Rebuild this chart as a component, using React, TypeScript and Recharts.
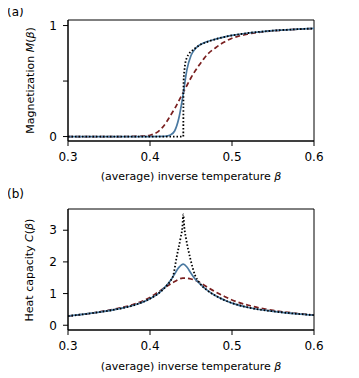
import { LineChart, Line, XAxis, YAxis, ReferenceArea } from "recharts"

// magnetization
const betaMExact = [0.3, 0.35, 0.4, 0.43, 0.4406, 0.4408, 0.441, 0.442, 0.443, 0.445, 0.4475, 0.45, 0.455, 0.46, 0.47, 0.48, 0.49, 0.5, 0.52, 0.54, 0.56, 0.58, 0.6]
const mExact = [0, 0, 0, 0, 0, 0.4, 0.5, 0.6, 0.66, 0.71, 0.745, 0.765, 0.795, 0.822, 0.853, 0.877, 0.896, 0.911, 0.933, 0.948, 0.959, 0.967, 0.974]

const betaMBlue = [0.3, 0.35, 0.4, 0.415, 0.42, 0.425, 0.43, 0.435, 0.44, 0.445, 0.45, 0.455, 0.46, 0.47, 0.48, 0.49, 0.5, 0.52, 0.54, 0.56, 0.58, 0.6]
const mBlue = [0, 0, 0, 0.001, 0.004, 0.015, 0.05, 0.16, 0.36, 0.6, 0.73, 0.79, 0.822, 0.856, 0.878, 0.896, 0.911, 0.933, 0.948, 0.959, 0.967, 0.974]

const betaMRed = [0.3, 0.35, 0.38, 0.39, 0.4, 0.405, 0.41, 0.415, 0.42, 0.425, 0.43, 0.435, 0.44, 0.445, 0.45, 0.455, 0.46, 0.465, 0.47, 0.48, 0.49, 0.5, 0.52, 0.54, 0.56, 0.58, 0.6]
const mRed = [0, 0, 0.001, 0.004, 0.012, 0.025, 0.045, 0.08, 0.13, 0.19, 0.25, 0.32, 0.39, 0.46, 0.53, 0.59, 0.645, 0.695, 0.74, 0.8, 0.85, 0.885, 0.924, 0.945, 0.958, 0.967, 0.974]

// heat capacity
const betaCExact = [0.3, 0.32, 0.34, 0.36, 0.38, 0.4, 0.41, 0.42, 0.425, 0.4284, 0.4324, 0.4374, 0.4395, 0.4406, 0.4418, 0.4439, 0.449, 0.4549, 0.46, 0.47, 0.48, 0.5, 0.52, 0.55, 0.58, 0.6]
const cExact = [0.29, 0.35, 0.42, 0.51, 0.63, 0.84, 1.0, 1.24, 1.4, 1.58, 2.14, 2.77, 3.1, 3.5, 3.1, 2.75, 2.12, 1.58, 1.35, 1.1, 0.93, 0.7, 0.56, 0.44, 0.36, 0.32]

const betaCBlue = [0.3, 0.32, 0.34, 0.36, 0.38, 0.4, 0.41, 0.42, 0.425, 0.43, 0.435, 0.4406, 0.445, 0.45, 0.455, 0.46, 0.47, 0.48, 0.5, 0.52, 0.55, 0.58, 0.6]
const cBlue = [0.29, 0.35, 0.42, 0.51, 0.63, 0.84, 1.0, 1.25, 1.41, 1.62, 1.82, 1.93, 1.84, 1.64, 1.46, 1.33, 1.1, 0.93, 0.7, 0.56, 0.44, 0.36, 0.32]

const betaCRed = [0.3, 0.32, 0.34, 0.36, 0.38, 0.4, 0.41, 0.42, 0.43, 0.44, 0.45, 0.46, 0.47, 0.48, 0.49, 0.5, 0.52, 0.55, 0.58, 0.6]
const cRed = [0.29, 0.35, 0.43, 0.53, 0.66, 0.88, 1.05, 1.22, 1.38, 1.49, 1.46, 1.36, 1.2, 1.05, 0.92, 0.8, 0.63, 0.47, 0.37, 0.32]

const xTicks = [0.3, 0.4, 0.5, 0.6]
const mTicks = [0, 0.5, 1]
const cTicks = [0, 1, 2, 3]

const BLUE = "#4a79a1"
const RED = "#7a1f1f"
const FONT = "DejaVu Sans"

const zip = (xs: number[], ys: number[]) => xs.map((beta, i) => ({ beta, v: ys[i] }))

interface PanelProps {
  top: number
  exact: { beta: number; v: number }[]
  blue: { beta: number; v: number }[]
  red: { beta: number; v: number }[]
  yDomain: [number, number]
  yTicks: number[]
  yFmt: (v: number) => string
}

function Panel({ top, exact, blue, red, yDomain, yTicks, yFmt }: PanelProps) {
  const tick = { fontSize: 12, fontFamily: FONT, fill: "#000" }
  return (
    <div style={{ position: "absolute", left: 0, top }}>
      <LineChart width={359} height={189} margin={{ top: 20, right: 45, left: 0, bottom: 18 }}>
        <XAxis
          type="number"
          dataKey="beta"
          domain={[0.3, 0.6]}
          ticks={xTicks}
          allowDataOverflow
          tickFormatter={(v: number) => v.toFixed(1)}
          tick={tick}
          tickSize={5}
          tickMargin={6}
          height={30}
          stroke="#000"
        />
        <YAxis
          type="number"
          domain={yDomain}
          ticks={yTicks}
          allowDataOverflow
          tickFormatter={yFmt}
          tick={tick}
          tickSize={5}
          tickMargin={6}
          width={68}
          stroke="#000"
        />
        <ReferenceArea x1={0.3} x2={0.6} y1={yDomain[0]} y2={yDomain[1]} fill="none" fillOpacity={0} stroke="#000" strokeWidth={1} />
        <Line data={red} dataKey="v" type="monotone" stroke={RED} strokeWidth={1.7} strokeDasharray="5 3" dot={false} isAnimationActive={false} />
        <Line data={blue} dataKey="v" type="monotone" stroke={BLUE} strokeWidth={1.7} dot={false} isAnimationActive={false} />
        <Line data={exact} dataKey="v" type="monotone" stroke="#000" strokeWidth={1.8} strokeDasharray="1.5 2" dot={false} isAnimationActive={false} />
      </LineChart>
    </div>
  )
}

export default function App() {
  const label = { fontFamily: FONT, fontSize: 11, fill: "#000" }
  return (
    <div style={{ position: "relative", width: 359, height: 378, margin: "-8px 0 0 -8px", background: "#fff" }}>
      <Panel
        top={0}
        exact={zip(betaMExact, mExact)}
        blue={zip(betaMBlue, mBlue)}
        red={zip(betaMRed, mRed)}
        yDomain={[-0.04, 1.05]}
        yTicks={mTicks}
        yFmt={(v) => (v === 0.5 ? "" : String(v))}
      />
      <Panel
        top={189}
        exact={zip(betaCExact, cExact)}
        blue={zip(betaCBlue, cBlue)}
        red={zip(betaCRed, cRed)}
        yDomain={[-0.15, 3.67]}
        yTicks={cTicks}
        yFmt={(v) => String(v)}
      />
      <svg width={359} height={378} style={{ position: "absolute", left: 0, top: 0, pointerEvents: "none" }}>
        <text x={7} y={16} style={{ ...label, fontSize: 12 }} fill="#000">(a)</text>
        <text x={7} y={198} style={{ ...label, fontSize: 12 }} fill="#000">(b)</text>
        <text x={191} y={180} textAnchor="middle" style={label} fill="#000">
          (average) inverse temperature <tspan fontStyle="italic">β</tspan>
        </text>
        <text x={191} y={370} textAnchor="middle" style={label} fill="#000">
          (average) inverse temperature <tspan fontStyle="italic">β</tspan>
        </text>
        <text transform="translate(34,80.5) rotate(-90)" textAnchor="middle" style={label} fill="#000">
          Magnetization <tspan fontStyle="italic">M</tspan>(<tspan fontStyle="italic">β</tspan>)
        </text>
        <text transform="translate(33,270) rotate(-90)" textAnchor="middle" style={label} fill="#000">
          Heat capacity <tspan fontStyle="italic">C</tspan>(<tspan fontStyle="italic">β</tspan>)
        </text>
      </svg>
    </div>
  )
}
